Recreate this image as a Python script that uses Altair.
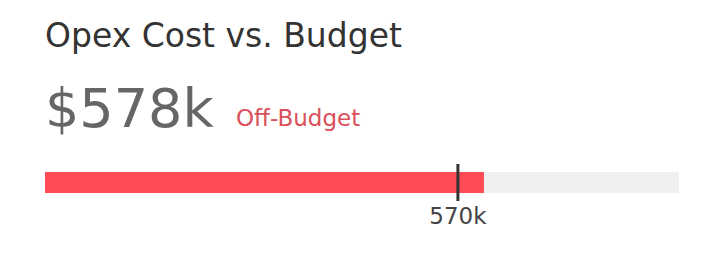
import altair as alt
import pandas as pd

# ---- data ----
title_text = ["Opex Cost vs. Budget"]
kpi_text = ["$578k"]
status_text = ["Off-Budget"]
actual = [578]
target = [570]
target_label = ["570k"]
range_min = [443]
range_max = [638]

df = pd.DataFrame({
    "title": title_text,
    "kpi": kpi_text,
    "status": status_text,
    "actual": actual,
    "target": target,
    "label": target_label,
    "lo": range_min,
    "hi": range_max,
})

FONT = "DejaVu Sans"
xscale = alt.Scale(domain=[range_min[0], range_max[0]], nice=False, zero=False)
base = alt.Chart(df)

bg = base.mark_rect(color="#f0f0f0").encode(
    x=alt.X("lo:Q", scale=xscale, axis=None), x2="hi:Q",
    y=alt.value(164), y2=alt.value(185))

bar = base.mark_rect(color="#ff4b55").encode(
    x=alt.X("lo:Q", scale=xscale, axis=None), x2="actual:Q",
    y=alt.value(164), y2=alt.value(185))

tick = base.mark_rule(color="#333333", strokeWidth=3).encode(
    x=alt.X("target:Q", scale=xscale, axis=None),
    y=alt.value(156), y2=alt.value(193))

tick_label = base.mark_text(font=FONT, fontSize=23, color="#444444",
                            align="center", baseline="alphabetic").encode(
    x=alt.X("target:Q", scale=xscale, axis=None),
    y=alt.value(216), text="label:N")

title = base.mark_text(font=FONT, fontSize=33, color="#333333",
                       align="left", baseline="alphabetic").encode(
    x=alt.value(0), y=alt.value(39), text="title:N")

kpi = base.mark_text(font=FONT, fontSize=54, color="#666666",
                     align="left", baseline="alphabetic").encode(
    x=alt.value(0), y=alt.value(119), text="kpi:N")

status = base.mark_text(font=FONT, fontSize=23, color="#d9505a",
                        align="left", baseline="alphabetic").encode(
    x=alt.value(191), y=alt.value(118), text="status:N")

chart = alt.layer(bg, bar, tick, tick_label, title, kpi, status).properties(
    width=634, height=240,
    padding={"left": 37, "right": 29, "top": 0, "bottom": 0},
    autosize="none",
    background="white",
).configure_view(strokeWidth=0)

chart.save("out.html", embed_options={"renderer": "svg", "actions": False})
